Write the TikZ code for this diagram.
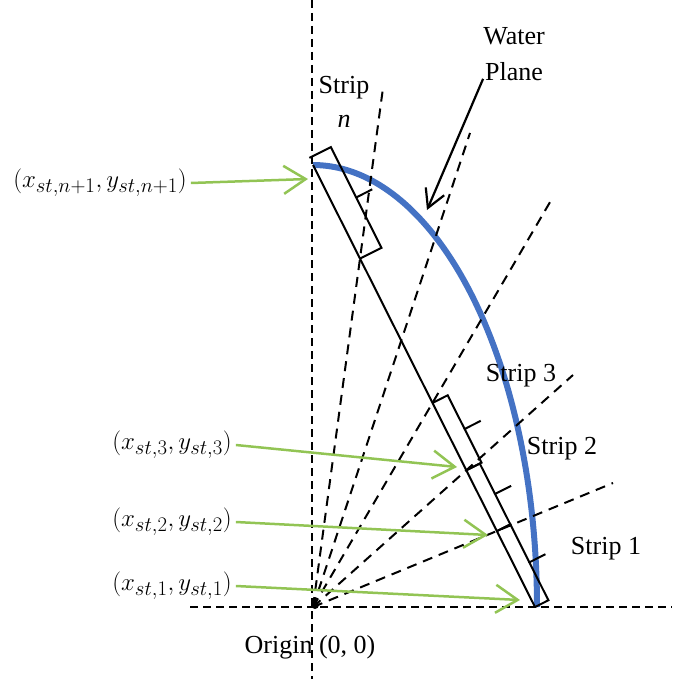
\documentclass[tikz,border=0pt]{standalone}
\usepackage{fontspec}
\setmainfont{Liberation Serif}
\usetikzlibrary{calc,arrows.meta}
\definecolor{wgreen}{RGB}{146,196,84}
\definecolor{wblue}{RGB}{68,114,196}
\tikzset{
  axisline/.style={line width=2.2pt,dash pattern=on 8pt off 5pt},
  rayline/.style={line width=2pt,dash pattern=on 10pt off 7pt},
  chordline/.style={line width=2pt},
  bracestyle/.style={line width=2pt,line join=miter},
  garrow/.style={wgreen,line width=2.5pt,-{Straight Barb[length=22pt,width=28pt,line width=2.5pt]}},
  barrow/.style={black,line width=2.2pt,-{Straight Barb[length=18pt,width=20pt,line width=2.2pt]}},
  lab/.style={font=\fontsize{26}{36}\selectfont,inner sep=2pt},
  mlab/.style={font=\fontsize{28}{32}\selectfont,inner sep=0pt},
}
\newcommand\stripbrace[4]{%
  \coordinate (bm) at ($(#1)!0.5!(#2)$);
  \draw[bracestyle] (#1) -- ($(#1)!#3pt!-90:(#2)$)
    -- ($(bm)!#3pt!-90:(#2)$) coordinate (bmm) -- ($(bm)!#3pt+#4pt!-90:(#2)$);
  \draw[bracestyle] (bmm) -- ($(#2)!#3pt!90:(#1)$) -- (#2);
}
\begin{document}
\begin{tikzpicture}[x=1pt,y=-1pt]
\useasboundingbox (0,0) rectangle (672,679);
% key points
\coordinate (O) at (313,607);
\coordinate (T) at (313,165);
\coordinate (B) at (535,607);
\coordinate (R1) at (613,483);
\coordinate (R2) at (573,375);
\coordinate (R3) at (553,197);
\coordinate (R4) at (470,133);
\coordinate (R5) at (383,88);
\coordinate (P1) at (intersection of O--R1 and T--B);
\coordinate (P2) at (intersection of O--R2 and T--B);
\coordinate (P3) at (intersection of O--R3 and T--B);
\coordinate (P5) at (intersection of O--R5 and T--B);
\coordinate (Tx) at ($(T)!-8pt!(B)$);
% water plane curve
\draw[wblue,line width=6pt] plot[smooth,samples=80,domain=0:90] ({313+224*cos(\x)},{607-442*sin(\x)});
% axes
\coordinate (XL) at (190,607);
\coordinate (XR) at (672,607);
\coordinate (YT) at (312,0);
\coordinate (YB) at (312,679);
\draw[axisline] (XL) -- (XR);
\draw[axisline] (YT) -- (YB);
% rays
\foreach \r in {R1,R2,R3,R4,R5} \draw[rayline] (O) -- (\r);
% chord
\draw[chordline] (T) -- (B);
% braces
\stripbrace{B}{P1}{15}{18}
\stripbrace{P1}{P2}{15}{18}
\stripbrace{P2}{P3}{17}{18}
\stripbrace{P5}{Tx}{24}{18}
% origin dot
\fill (315,605) circle (4pt);
% labels
\node[lab] (S1) at (606,549) {Strip 1};
\node[lab] (S2) at (562,449) {Strip 2};
\node[lab] (S3) at (521,376) {Strip 3};
\node[lab,align=center] (Sn) at (344,102) {Strip\\[-2pt]\textit{n}};
\node[lab,align=center] (WP) at (514,54) {Water\\Plane};
\node[lab] (OR) at (310,647) {Origin (0, 0)};
\coordinate (wt) at (427,210);
\draw[barrow] ([xshift=2pt,yshift=4pt]WP.south west) -- (wt);
% coordinate labels
\node[mlab] (Ln) at (100,183) {$\bigl(x_{st,n+1},y_{st,n+1}\bigr)$};
\node[mlab] (L3) at (172,445) {$\bigl(x_{st,3},y_{st,3}\bigr)$};
\node[mlab] (L2) at (172,522) {$\bigl(x_{st,2},y_{st,2}\bigr)$};
\node[mlab] (L1) at (172,586) {$\bigl(x_{st,1},y_{st,1}\bigr)$};
\coordinate (tn) at (308,179);
\coordinate (t3) at (457,467);
\coordinate (t2) at (488,535);
\coordinate (t1) at (520,600);
\draw[garrow] ([xshift=4pt]Ln.east) -- (tn);
\draw[garrow] ([xshift=4pt]L3.east) -- (t3);
\draw[garrow] ([xshift=4pt]L2.east) -- (t2);
\draw[garrow] ([xshift=4pt]L1.east) -- (t1);
\end{tikzpicture}
\end{document}
